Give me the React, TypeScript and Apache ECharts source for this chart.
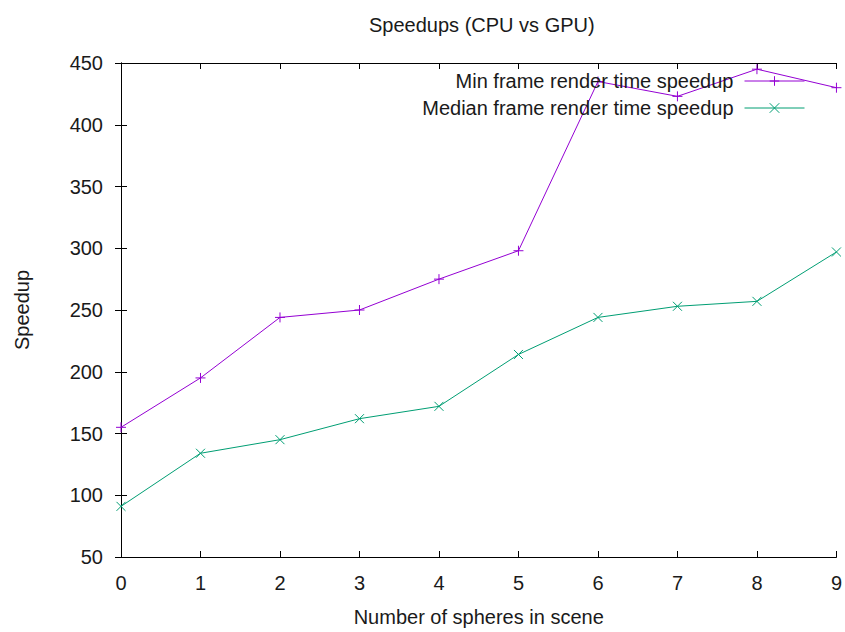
import React, { useEffect, useRef } from "react";
import * as echarts from "echarts";

const xValues = [0, 1, 2, 3, 4, 5, 6, 7, 8, 9];
const minSpeedup = [155, 195, 244, 250, 275, 298, 435, 423, 445, 430];
const medianSpeedup = [91, 134, 145, 162, 172, 214, 244, 253, 257, 297];
const seriesNames = ["Min frame render time speedup", "Median frame render time speedup"];

const FONT = "'Liberation Sans', Arial, sans-serif";
const TXT = "#1a1a1a";
const PURPLE = "#9400D3";
const GREEN = "#009E73";

export default function App() {
  const ref = useRef<HTMLDivElement>(null);
  useEffect(() => {
    if (!ref.current) return;
    const chart = echarts.init(ref.current, null, { renderer: "svg" });
    const axisCommon = {
      axisLine: { show: true, lineStyle: { color: "#000", width: 1 } },
      axisTick: { show: true, inside: true, length: 6, lineStyle: { color: "#000" } },
      splitLine: { show: false },
    };
    const legendCommon = {
      right: 35,
      align: "right",
      itemWidth: 60,
      itemHeight: 12,
      lineStyle: { width: 1 },
      itemStyle: { borderWidth: 1 },
      textStyle: { fontFamily: FONT, fontSize: 20, color: TXT, padding: [0, 6, 0, 0] },
    };
    chart.setOption({
      animation: false,
      backgroundColor: "#fff",
      title: {
        text: "Speedups (CPU vs GPU)",
        left: 364,
        top: 10,
        textStyle: { fontFamily: FONT, fontSize: 20, fontWeight: "normal", color: TXT },
      },
      legend: [
        { ...legendCommon, data: [seriesNames[0]], top: 66 },
        { ...legendCommon, data: [seriesNames[1]], top: 93 },
      ],
      grid: { left: 121, right: 7, top: 63, bottom: 75, containLabel: false },
      xAxis: [
        {
          type: "value",
          min: 0,
          max: 9,
          interval: 1,
          position: "bottom",
          name: "Number of spheres in scene",
          nameLocation: "middle",
          nameGap: 50,
          nameTextStyle: { fontFamily: FONT, fontSize: 20, color: TXT },
          axisLabel: { fontFamily: FONT, fontSize: 20, color: TXT, margin: 16 },
          ...axisCommon,
        },
        {
          type: "value",
          min: 0,
          max: 9,
          interval: 1,
          position: "top",
          axisLabel: { show: false },
          ...axisCommon,
        },
      ],
      yAxis: [
        {
          type: "value",
          min: 50,
          max: 450,
          interval: 50,
          position: "left",
          name: "Speedup",
          nameLocation: "middle",
          nameGap: 89,
          nameTextStyle: { fontFamily: FONT, fontSize: 20, color: TXT },
          axisLabel: { fontFamily: FONT, fontSize: 20, color: TXT, margin: 18 },
          ...axisCommon,
        },
        {
          type: "value",
          min: 50,
          max: 450,
          interval: 50,
          position: "right",
          axisLabel: { show: false },
          ...axisCommon,
        },
      ],
      series: [
        {
          name: seriesNames[0],
          type: "line",
          xAxisIndex: 0,
          yAxisIndex: 0,
          data: xValues.map((x, i) => [x, minSpeedup[i]]),
          symbol: "path://M0,5L10,5M5,0L5,10",
          symbolSize: 10,
          showAllSymbol: true,
          lineStyle: { color: PURPLE, width: 1 },
          itemStyle: { color: PURPLE, borderColor: PURPLE, borderWidth: 1 },
          z: 3,
        },
        {
          name: seriesNames[1],
          type: "line",
          xAxisIndex: 0,
          yAxisIndex: 0,
          data: xValues.map((x, i) => [x, medianSpeedup[i]]),
          symbol: "path://M0,0L10,10M10,0L0,10",
          symbolSize: 9,
          showAllSymbol: true,
          lineStyle: { color: GREEN, width: 1 },
          itemStyle: { color: GREEN, borderColor: GREEN, borderWidth: 1 },
          z: 3,
        },
      ],
    });
    return () => chart.dispose();
  }, []);
  return <div ref={ref} style={{ width: 845, height: 632, position: "absolute", left: 0, top: 0 }} />;
}
